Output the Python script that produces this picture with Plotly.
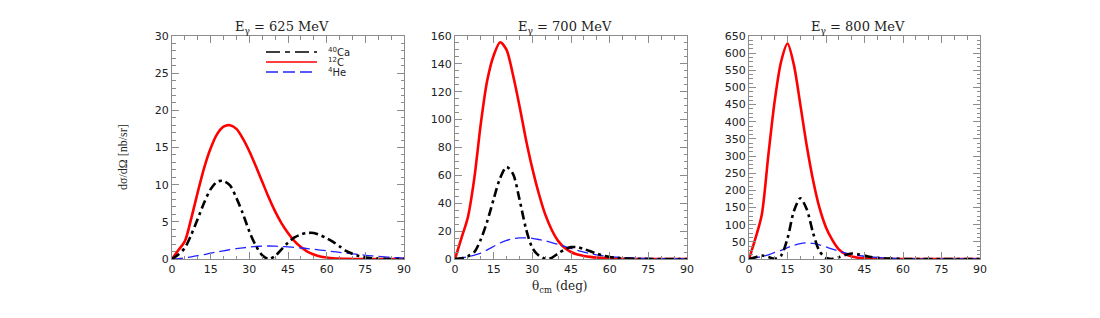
import plotly.graph_objects as go

# ---------------- data ----------------
theta = [0, 2.5, 5, 7.5, 10, 12.5, 15, 17.5, 20, 22.5, 25, 27.5, 30, 32.5, 35, 37.5,
         40, 42.5, 45, 47.5, 50, 52.5, 55, 57.5, 60, 62.5, 65, 67.5, 70, 72.5, 75,
         77.5, 80, 82.5, 85, 87.5, 90]

# E_gamma = 625 MeV
c12_625 = [0, 1.2, 2.4, 5.5, 9.0, 12.3, 14.9, 16.8, 17.8, 18.0, 17.5, 16.2, 14.5, 12.5,
           10.4, 8.3, 6.4, 4.8, 3.5, 2.4, 1.6, 1.0, 0.6, 0.35, 0.2, 0.1, 0.05, 0.02,
           0.01, 0, 0, 0, 0, 0, 0, 0, 0]
ca40_625 = [0, 0.6, 1.5, 3.3, 5.4, 7.6, 9.4, 10.4, 10.5, 9.9, 8.2, 6.1, 3.7, 1.8, 0.5,
            0.0, 0.4, 1.3, 2.2, 2.9, 3.3, 3.5, 3.5, 3.2, 2.8, 2.3, 1.7, 1.1, 0.7, 0.4,
            0.2, 0.1, 0.05, 0.02, 0, 0, 0]
he4_625 = [0, 0.05, 0.15, 0.3, 0.45, 0.6, 0.8, 0.95, 1.1, 1.25, 1.4, 1.5, 1.6, 1.7,
           1.72, 1.75, 1.72, 1.68, 1.62, 1.55, 1.48, 1.4, 1.3, 1.2, 1.1, 1.0, 0.9, 0.8,
           0.7, 0.6, 0.5, 0.42, 0.35, 0.28, 0.22, 0.17, 0.13]

# E_gamma = 700 MeV
c12_700 = [0, 15, 30, 58, 97, 128, 146, 155.5, 150, 132, 110, 86, 65, 47, 32, 21, 13,
           8, 5, 3.2, 2.2, 1.5, 1.0, 0.7, 0.4, 0.25, 0.15, 0.1, 0.05, 0, 0, 0, 0, 0,
           0, 0, 0]
ca40_700 = [0, 0.5, 2, 5, 14, 27, 43, 58, 66, 61, 43, 22, 8, 2.5, 0.2, 0.8, 4, 6.8,
            8.5, 8.5, 7.2, 5.5, 3.8, 2.5, 1.5, 0.9, 0.5, 0.3, 0.15, 0.1, 0.05, 0, 0,
            0, 0, 0, 0]
he4_700 = [0, 0.6, 1.6, 2.8, 4.2, 6.5, 9, 11.5, 13.3, 14.5, 15.1, 15.2, 14.8, 14, 13,
           11.8, 10.5, 9, 7.6, 6.2, 5, 3.9, 3, 2.3, 1.7, 1.3, 1.0, 0.8, 0.6, 0.5, 0.4,
           0.35, 0.3, 0.25, 0.22, 0.2, 0.18]

# E_gamma = 800 MeV
c12_800 = [0, 60, 130, 300, 460, 575, 628, 565, 450, 330, 228, 148, 92, 55, 28, 14, 7,
           3.5, 1.8, 0.9, 0.4, 0.2, 0.1, 0.05, 0, 0, 0, 0, 0, 0, 0, 0, 0, 0, 0, 0, 0]
ca40_800 = [0, 5, 10, 6, 0.5, 10, 60, 140, 177, 145, 75, 22, 3, 0.3, 5, 12, 16, 14,
            10, 6, 3.5, 2, 1, 0.5, 0.2, 0.1, 0, 0, 0, 0, 0, 0, 0, 0, 0, 0, 0]
he4_800 = [0, 3.5, 7, 12, 19, 25, 33, 40, 45, 47, 45.5, 41, 35, 29, 23, 18, 14, 10.5,
           8, 6, 4.3, 3.2, 2.3, 1.7, 1.2, 0.9, 0.6, 0.45, 0.35, 0.3, 0.25, 0.2, 0.15,
           0.12, 0.1, 0.08, 0.06]

titles = ["E<sub>γ</sub> = 625 MeV", "E<sub>γ</sub> = 700 MeV", "E<sub>γ</sub> = 800 MeV"]
y_max = [30, 160, 650]
y_major = [5, 20, 50]
y_minor = [1, 5, 12.5]
x_ticks = [0, 15, 30, 45, 60, 75, 90]
legend_names = ["<sup>40</sup>Ca", "<sup>12</sup>C", "<sup>4</sup>He"]

panels = [
    (c12_625, ca40_625, he4_625),
    (c12_700, ca40_700, he4_700),
    (c12_800, ca40_800, he4_800),
]

# ---------------- layout geometry ----------------
W, H = 1100, 318
ML, MR, MT, MB = 172, 120, 36, 59
PW = W - ML - MR
PH = H - MT - MB
pix_domains = [(172, 404), (455, 687), (749, 980)]
domains = [((a - ML) / PW, (b - ML) / PW) for a, b in pix_domains]


def px(xp):
    return (xp - ML) / PW


def py(yp):
    return (H - MB - yp) / PH


RED = "#ff0000"
BLACK = "#000000"
BLUE = "#2222ff"
AXC = "#8c8c8c"
TICKFONT = dict(family="DejaVu Sans", size=11, color="#222222")
SERIF = "DejaVu Serif"

fig = go.Figure()

for i, (c12, ca40, he4) in enumerate(panels):
    xa = "x" if i == 0 else f"x{i + 1}"
    ya = "y" if i == 0 else f"y{i + 1}"
    fig.add_trace(go.Scatter(x=theta, y=c12, xaxis=xa, yaxis=ya, mode="lines",
                             line=dict(color=RED, width=2.6, shape="spline", smoothing=0.8),
                             showlegend=False, hoverinfo="skip"))
    fig.add_trace(go.Scatter(x=theta, y=he4, xaxis=xa, yaxis=ya, mode="lines",
                             line=dict(color=BLUE, width=1.3, dash="11px,5px",
                                       shape="spline", smoothing=0.8),
                             showlegend=False, hoverinfo="skip"))
    fig.add_trace(go.Scatter(x=theta, y=ca40, xaxis=xa, yaxis=ya, mode="lines",
                             line=dict(color=BLACK, width=2.6, dash="9px,4px,3px,4px",
                                       shape="spline", smoothing=0.8),
                             showlegend=False, hoverinfo="skip"))

    axis_common = dict(showline=True, linecolor=AXC, linewidth=1, mirror="ticks",
                       ticks="inside", ticklen=7, tickcolor=AXC, tickwidth=1,
                       showgrid=False, zeroline=False, tickfont=TICKFONT,
                       automargin=False)
    xkey = "xaxis" if i == 0 else f"xaxis{i + 1}"
    ykey = "yaxis" if i == 0 else f"yaxis{i + 1}"
    fig.layout[xkey] = dict(domain=list(domains[i]), anchor=ya, range=[0, 90],
                            tickvals=x_ticks,
                            minor=dict(dtick=5, tick0=0, ticks="inside", ticklen=3.5,
                                       tickcolor=AXC, showgrid=False),
                            **axis_common)
    fig.layout[ykey] = dict(domain=[0, 1], anchor=xa, range=[0, y_max[i]],
                            dtick=y_major[i], tick0=0,
                            minor=dict(dtick=y_minor[i], tick0=0, ticks="inside",
                                       ticklen=3.5, tickcolor=AXC, showgrid=False),
                            **axis_common)

annotations = []
for i, t in enumerate(titles):
    cx = (domains[i][0] + domains[i][1]) / 2
    annotations.append(dict(text=t, x=cx - 0.008, y=py(27), xref="paper", yref="paper",
                            showarrow=False, xanchor="center", yanchor="middle",
                            font=dict(family=SERIF, size=13, color="#222222")))

annotations.append(dict(text="dσ/dΩ [nb/sr]", x=px(123), y=py(157), xref="paper",
                        yref="paper", showarrow=False, textangle=-90,
                        xanchor="center", yanchor="middle",
                        font=dict(family="Liberation Serif", size=12, color="#222222")))
annotations.append(dict(text="θ<sub>cm</sub> (deg)", x=px(560), y=py(277), xref="paper",
                        yref="paper", showarrow=False, xanchor="center", yanchor="top",
                        font=dict(family=SERIF, size=12, color="#222222")))

# manual legend (panel 1)
leg_rows = [52, 62, 72]
leg_styles = [dict(color=BLACK, width=1.3, dash="14px,5px,5px,5px"),
              dict(color=RED, width=1.3),
              dict(color=BLUE, width=1.3, dash="12px,5px")]
shapes = []
for name, yr, st in zip(legend_names, leg_rows, leg_styles):
    shapes.append(dict(type="line", xref="paper", yref="paper",
                       x0=px(266), x1=px(317), y0=py(yr), y1=py(yr), line=st))
    annotations.append(dict(text=name, x=px(326), y=py(yr), xref="paper", yref="paper",
                            showarrow=False, xanchor="left", yanchor="middle",
                            font=dict(family="DejaVu Sans", size=10, color="#222222")))

fig.update_layout(width=W, height=H, margin=dict(l=ML, r=MR, t=MT, b=MB,
                                                 autoexpand=False),
                  paper_bgcolor="white", plot_bgcolor="white",
                  showlegend=False, annotations=annotations, shapes=shapes,
                  hovermode=False)

fig.write_html("out.html", config={"displayModeBar": False},
               post_script="document.body.style.margin='0px';"
                           "document.body.style.padding='0px';")
